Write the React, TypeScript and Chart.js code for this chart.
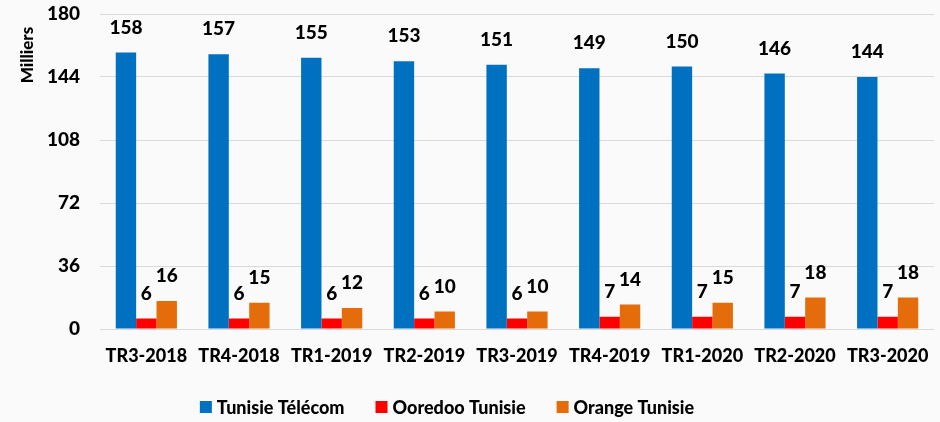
import React, { useEffect, useRef } from "react";
import { Chart, registerables } from "chart.js";

Chart.register(...registerables);

const categories = [
  "TR3-2018", "TR4-2018", "TR1-2019", "TR2-2019", "TR3-2019",
  "TR4-2019", "TR1-2020", "TR2-2020", "TR3-2020",
];
const tunisieTelecom = [158, 157, 155, 153, 151, 149, 150, 146, 144];
const ooredooTunisie = [6, 6, 6, 6, 6, 7, 7, 7, 7];
const orangeTunisie = [16, 15, 12, 10, 10, 14, 15, 18, 18];
const seriesNames = ["Tunisie Télécom", "Ooredoo Tunisie", "Orange Tunisie"];
const seriesColors = ["#0070C0", "#FF0000", "#E46C0A"];
const yMin = 0;
const yMax = 180;
const yStep = 36;
const yTitle = "Milliers";

const FONT = "Lato, 'Open Sans', sans-serif";
const W = "900";

const bgPlugin = {
  id: "bg",
  beforeDraw(chart: any) {
    const { ctx, width, height } = chart;
    ctx.save();
    ctx.fillStyle = "#fafafa";
    ctx.fillRect(0, 0, width, height);
    ctx.restore();
  },
};

const labelsPlugin = {
  id: "valueLabels",
  afterDatasetsDraw(chart: any) {
    const { ctx } = chart;
    ctx.save();
    ctx.font = `${W} 19px ${FONT}`;
    ctx.fillStyle = "#000";
    ctx.textAlign = "center";
    ctx.textBaseline = "middle";
    chart.data.datasets.forEach((ds: any, i: number) => {
      const meta = chart.getDatasetMeta(i);
      meta.data.forEach((el: any, j: number) => {
        ctx.fillText(String(ds.data[j]), el.x, el.y - 25);
      });
    });
    ctx.restore();
  },
};

const yTitlePlugin = {
  id: "yTitle",
  afterDraw(chart: any) {
    const { ctx } = chart;
    ctx.save();
    ctx.font = `${W} 17px ${FONT}`;
    ctx.fillStyle = "#000";
    ctx.textAlign = "center";
    ctx.textBaseline = "middle";
    ctx.translate(28, 55);
    ctx.rotate(-Math.PI / 2);
    ctx.fillText(yTitle, 0, 0);
    ctx.restore();
  },
};

const legendPlugin = {
  id: "customLegend",
  afterDraw(chart: any) {
    const { ctx } = chart;
    ctx.save();
    ctx.font = `${W} 18px ${FONT}`;
    ctx.textBaseline = "middle";
    ctx.textAlign = "left";
    const box = 12;
    const gapText = 5;
    const gapItem = 31;
    const widths = seriesNames.map((n) => box + gapText + ctx.measureText(n).width);
    const total = widths.reduce((a, b) => a + b, 0) + gapItem * (seriesNames.length - 1);
    let x = 447 - total / 2;
    const y = 407;
    seriesNames.forEach((n, i) => {
      ctx.fillStyle = seriesColors[i];
      ctx.fillRect(x, y - box / 2, box, box);
      ctx.fillStyle = "#000";
      ctx.fillText(n, x + box + gapText, y + 1);
      x += widths[i] + gapItem;
    });
    ctx.restore();
  },
};

export default function App() {
  const ref = useRef<HTMLCanvasElement>(null);

  useEffect(() => {
    if (!ref.current) return;
    const data = [tunisieTelecom, ooredooTunisie, orangeTunisie];
    const chart = new Chart(ref.current, {
      type: "bar",
      data: {
        labels: categories,
        datasets: data.map((d, i) => ({
          label: seriesNames[i],
          data: d,
          backgroundColor: seriesColors[i],
          borderWidth: 0,
          categoryPercentage: 0.66,
          barPercentage: 1,
        })),
      },
      options: {
        animation: false,
        responsive: false,
        layout: { padding: { top: 14, right: 6, left: 0, bottom: 0 } },
        plugins: {
          legend: { display: false },
          tooltip: { enabled: false },
        },
        scales: {
          x: {
            grid: { display: false, drawTicks: false },
            border: { display: false },
            ticks: {
              color: "#000",
              padding: 16,
              maxRotation: 0,
              autoSkip: false,
              font: { family: FONT, size: 18, weight: W },
            },
            afterFit(scale: any) {
              scale.height = 93;
              scale.paddingLeft = 0;
              scale.paddingRight = 0;
            },
          },
          y: {
            min: yMin,
            max: yMax,
            grid: { color: "#d9d9d9", lineWidth: 1, drawTicks: false },
            border: { display: false },
            ticks: {
              stepSize: yStep,
              color: "#000",
              padding: 20,
              font: { family: FONT, size: 19, weight: W },
            },
            afterFit(scale: any) {
              scale.width = 100;
              scale.paddingTop = 0;
              scale.paddingBottom = 0;
            },
          },
        },
      },
      plugins: [bgPlugin, labelsPlugin, yTitlePlugin, legendPlugin],
    });
    return () => chart.destroy();
  }, []);

  return (
    <div style={{ position: "fixed", left: 0, top: 0, width: 940, height: 422 }}>
      <canvas ref={ref} width={940} height={422} />
    </div>
  );
}
